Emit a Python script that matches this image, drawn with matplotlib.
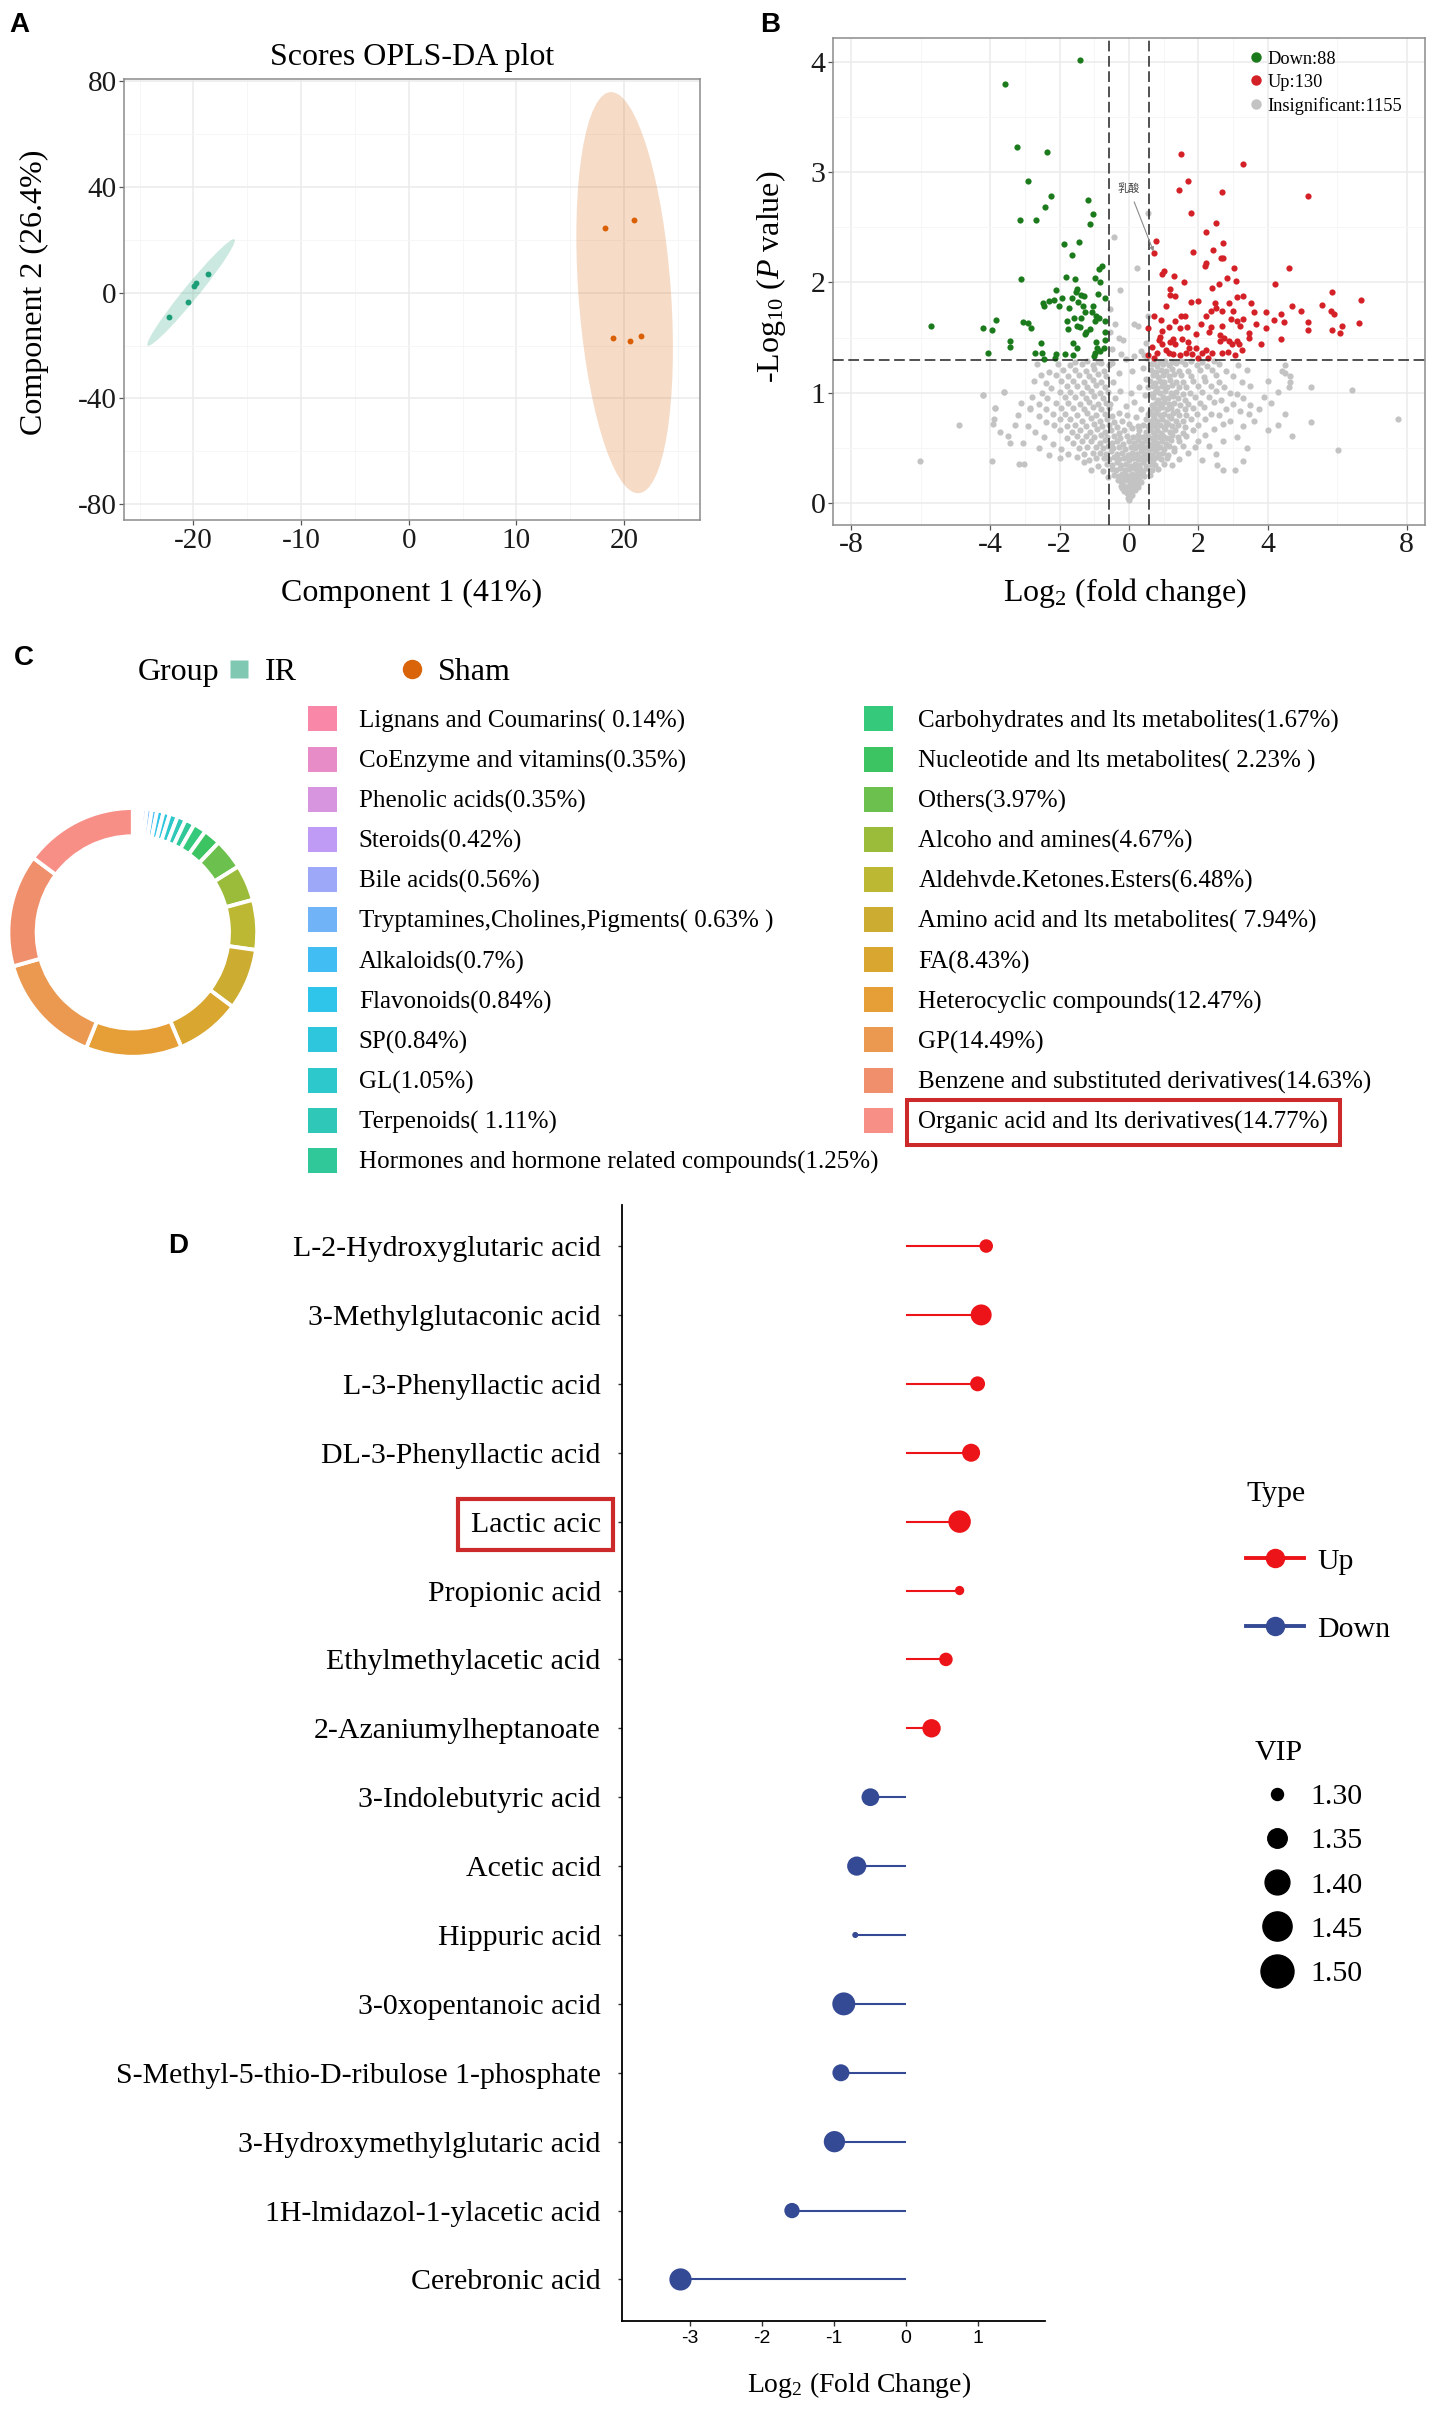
import numpy as np
import matplotlib
matplotlib.use("Agg")
import matplotlib.pyplot as plt
from matplotlib.patches import Ellipse, Patch
from matplotlib.lines import Line2D

# ======================= DATA =======================
# Panel A : OPLS-DA scores
ir_x = [-22.22, -20.50, -19.97, -19.75, -18.63]
ir_y = [-9.4, -3.5, 2.4, 3.5, 7.1]
sham_x = [18.2, 20.9, 19.0, 20.5, 21.6]
sham_y = [24.3, 27.4, -17.3, -18.3, -16.3]
a_xticks = [-20, -10, 0, 10, 20]
a_yticks = [-80, -40, 0, 40, 80]
a_xminor = [-25, -15, -5, 5, 15, 25]
a_yminor = [-60, -20, 20, 60]

# Panel B : volcano
n_down, n_up, n_ns = 88, 130, 1155
fc_cut = 0.585
p_cut = 1.301
b_xticks = [-8, -4, -2, 0, 2, 4, 8]
b_yticks = [0, 1, 2, 3, 4]
b_xminor = [-6, -3, -1, 1, 3, 6]
b_yminor = [0.5, 1.5, 2.5, 3.5]
lactic_xy = (0.72, 2.27)

down_pts = [
    (-1.42, 4.01), (-3.58, 3.80), (-3.22, 3.23), (-2.35, 3.18), (-2.90, 2.92), (-2.25, 2.78),
    (-1.18, 2.75), (-2.42, 2.68), (-1.03, 2.62), (-3.14, 2.57), (-2.67, 2.57), (-1.13, 2.53),
    (-1.43, 2.37), (-1.87, 2.35), (-1.65, 2.25), (-0.78, 2.15), (-0.86, 2.12), (-1.82, 2.05),
    (-0.99, 2.04), (-1.57, 2.03), (-3.11, 2.03), (-0.83, 2.00), (-1.49, 1.94), (-2.10, 1.93),
    (-1.53, 1.91), (-1.37, 1.89), (-1.29, 1.88), (-0.90, 1.90), (-1.64, 1.86), (-2.48, 1.81),
    (-2.32, 1.83), (-2.16, 1.84), (-0.70, 1.86), (-2.45, 1.79), (-2.01, 1.79), (-1.34, 1.79),
    (-1.03, 1.79), (-1.06, 1.73), (-0.94, 1.70), (-1.58, 1.68), (-1.39, 1.68), (-1.78, 1.65),
    (-0.98, 1.65), (-0.87, 1.68), (-0.70, 1.65), (-1.50, 1.61), (-1.42, 1.60), (-1.76, 1.58),
    (-1.26, 1.53), (-3.06, 1.64), (-2.90, 1.63), (-2.83, 1.59), (-3.82, 1.66), (-4.21, 1.59),
    (-3.95, 1.57), (-5.71, 1.61), (-3.42, 1.47), (-3.43, 1.42), (-2.55, 1.45), (-4.05, 1.36),
    (-2.70, 1.36), (-2.51, 1.36), (-2.10, 1.35), (-2.45, 1.31), (-2.14, 1.32), (-1.62, 1.34),
    (-1.49, 1.41), (-1.62, 1.45), (-0.95, 1.46), (-0.91, 1.41), (-0.73, 1.41), (-0.69, 1.48),
    (-0.99, 1.36), (-0.83, 1.38), (-1.02, 1.33), (-1.85, 1.35), (-0.70, 1.55), (-1.13, 1.58),
    (-1.26, 1.73), (-1.23, 1.55), (-1.46, 1.82), (-1.73, 1.77), (-1.93, 1.86),
]

up_pts = [
    (1.50, 3.16), (3.29, 3.07), (1.69, 2.92), (1.43, 2.84), (2.67, 2.82), (5.17, 2.78),
    (1.79, 2.63), (2.50, 2.54), (2.23, 2.46), (0.77, 2.38), (2.70, 2.36), (0.73, 2.27),
    (1.85, 2.28), (2.41, 2.29), (2.22, 2.18), (2.19, 2.15), (2.66, 2.22), (2.71, 2.22),
    (4.62, 2.13), (3.03, 2.13), (1.01, 2.10), (0.94, 2.08), (1.30, 2.06), (2.82, 2.04),
    (1.58, 2.00), (3.07, 2.01), (4.21, 1.99), (2.59, 1.99), (5.85, 1.91), (1.19, 1.94),
    (2.39, 1.95), (1.18, 1.89), (1.34, 1.88), (3.11, 1.87), (3.29, 1.88), (1.98, 1.83),
    (1.78, 1.82), (3.51, 1.81), (6.70, 1.84), (2.89, 1.81), (2.49, 1.81), (1.08, 1.79),
    (5.55, 1.80), (4.71, 1.79), (2.50, 1.77), (4.96, 1.74), (2.37, 1.74), (2.69, 1.74),
    (2.99, 1.74), (3.94, 1.73), (4.39, 1.71), (5.83, 1.74), (5.91, 1.71), (0.73, 1.70),
    (1.50, 1.70), (1.62, 1.70), (2.23, 1.70), (3.30, 1.67), (2.94, 1.67), (0.93, 1.66),
    (1.34, 1.65), (3.10, 1.65), (4.17, 1.66), (4.47, 1.64), (5.17, 1.64), (6.63, 1.63),
    (6.15, 1.61), (2.69, 1.61), (2.35, 1.60), (0.54, 1.59), (1.14, 1.60), (1.67, 1.60),
    (3.19, 1.61), (3.94, 1.59), (5.17, 1.57), (5.85, 1.57), (6.09, 1.54), (0.95, 1.56),
    (2.31, 1.55), (2.61, 1.52), (3.45, 1.54), (3.47, 1.50), (0.88, 1.51), (1.26, 1.49),
    (1.52, 1.49), (2.73, 1.50), (2.89, 1.47), (4.37, 1.49), (0.87, 1.48), (1.19, 1.46),
    (1.69, 1.46), (3.10, 1.47), (2.96, 1.44), (3.16, 1.44), (0.65, 1.42), (0.94, 1.44),
    (1.34, 1.44), (2.61, 1.47), (1.08, 1.39), (1.74, 1.41), (3.26, 1.39), (2.22, 1.39),
    (0.80, 1.36), (1.15, 1.36), (1.65, 1.36), (2.11, 1.36), (2.39, 1.36), (2.67, 1.36),
    (0.56, 1.34), (1.27, 1.35), (1.83, 1.35), (3.05, 1.34), (2.27, 1.32), (0.73, 1.32),
    (2.00, 1.32), (1.47, 1.34), (2.85, 1.37), (3.67, 1.62), (2.07, 1.62), (1.47, 1.59),
    (1.94, 1.53), (3.61, 1.73), (3.81, 1.44), (1.94, 1.41),
]

ns_pts = [
    (0.00, 0.03), (0.04, 0.06), (-0.04, 0.05), (0.09, 0.08), (-0.07, 0.09),
    (-0.14, 0.11), (-0.06, 0.12), (0.03, 0.10), (0.11, 0.13), (0.17, 0.12), (-0.20, 0.14),
    (-0.24, 0.16), (-0.16, 0.17), (-0.09, 0.15), (0.00, 0.16), (0.07, 0.18), (0.14, 0.16), (0.22, 0.17), (0.27, 0.15),
    (-0.32, 0.21), (-0.22, 0.20), (-0.13, 0.22), (-0.05, 0.21), (0.05, 0.23), (0.13, 0.20), (0.21, 0.22), (0.30, 0.21), (0.36, 0.19),
    (-0.42, 0.26), (-0.30, 0.25), (-0.19, 0.27), (-0.08, 0.26), (0.02, 0.25), (0.10, 0.27), (0.19, 0.26), (0.27, 0.24),
    (0.35, 0.27), (0.44, 0.25), (-0.60, 0.24), (0.60, 0.26),
    (-0.50, 0.31), (-0.38, 0.30), (-0.26, 0.32), (-0.12, 0.30), (0.00, 0.31), (0.13, 0.32), (0.24, 0.30), (0.33, 0.31),
    (0.41, 0.29), (0.52, 0.32), (0.66, 0.30), (-0.75, 0.29), (0.85, 0.31), (-1.10, 0.30),
    (-0.62, 0.36), (-0.48, 0.35), (-0.35, 0.37), (-0.22, 0.35), (-0.08, 0.36), (0.06, 0.34), (0.17, 0.36), (0.29, 0.35),
    (0.40, 0.37), (0.50, 0.34), (0.62, 0.36), (0.74, 0.35), (-0.90, 0.34), (1.00, 0.36), (-1.30, 0.37), (1.25, 0.35),
    (-0.72, 0.41), (-0.58, 0.40), (-0.42, 0.42), (-0.30, 0.40), (-0.15, 0.41), (0.00, 0.39), (0.12, 0.41), (0.25, 0.40),
    (0.37, 0.42), (0.48, 0.40), (0.58, 0.41), (0.69, 0.39), (0.80, 0.42), (0.93, 0.40), (-0.95, 0.41), (-1.15, 0.39),
    (1.10, 0.41), (-1.50, 0.42), (1.45, 0.40), (-2.00, 0.41), (2.10, 0.39),
    (-0.85, 0.46), (-0.66, 0.45), (-0.52, 0.47), (-0.36, 0.45), (-0.20, 0.46), (-0.04, 0.44), (0.10, 0.46), (0.22, 0.45),
    (0.34, 0.47), (0.45, 0.45), (0.55, 0.46), (0.65, 0.44), (0.75, 0.47), (0.86, 0.45), (0.98, 0.46), (1.12, 0.44),
    (-1.05, 0.46), (-1.30, 0.45), (1.30, 0.47), (-1.75, 0.45), (1.70, 0.46), (-2.30, 0.44), (2.50, 0.45),
    (-0.95, 0.51), (-0.75, 0.50), (-0.60, 0.52), (-0.45, 0.50), (-0.28, 0.51), (-0.12, 0.49), (0.05, 0.51), (0.18, 0.50),
    (0.30, 0.52), (0.42, 0.50), (0.52, 0.51), (0.60, 0.49), (0.70, 0.52), (0.80, 0.50), (0.90, 0.51), (1.00, 0.49),
    (1.15, 0.52), (1.30, 0.50), (-1.20, 0.51), (-1.45, 0.50), (1.55, 0.52), (-1.95, 0.49), (1.90, 0.51), (-2.60, 0.50),
    (2.30, 0.52), (3.40, 0.50),
    (-1.10, 0.56), (-0.85, 0.55), (-0.68, 0.57), (-0.50, 0.55), (-0.35, 0.56), (-0.18, 0.54), (0.00, 0.56), (0.15, 0.55),
    (0.27, 0.57), (0.38, 0.55), (0.50, 0.56), (0.62, 0.54), (0.72, 0.57), (0.82, 0.55), (0.95, 0.56), (1.08, 0.54),
    (1.20, 0.57), (-1.35, 0.56), (-1.60, 0.55), (1.45, 0.56), (-2.20, 0.54), (2.00, 0.56), (-3.05, 0.55), (2.70, 0.56),
    (-1.25, 0.61), (-1.00, 0.60), (-0.80, 0.62), (-0.62, 0.60), (-0.44, 0.61), (-0.25, 0.59), (-0.05, 0.61), (0.12, 0.60),
    (0.25, 0.62), (0.40, 0.60), (0.55, 0.61), (0.66, 0.59), (0.76, 0.62), (0.86, 0.60), (0.98, 0.61), (1.10, 0.59),
    (1.25, 0.62), (1.40, 0.60), (-1.50, 0.61), (-1.80, 0.59), (1.65, 0.61), (-2.45, 0.60), (2.20, 0.62), (3.10, 0.60),
    (-3.50, 0.61),
    (-1.40, 0.66), (-1.12, 0.65), (-0.92, 0.67), (-0.70, 0.65), (-0.52, 0.66), (-0.30, 0.64), (0.30, 0.66), (0.48, 0.65),
    (0.60, 0.67), (0.70, 0.65), (0.80, 0.66), (0.92, 0.64), (1.05, 0.67), (1.18, 0.65), (1.32, 0.66), (-1.65, 0.65),
    (-2.00, 0.66), (1.55, 0.64), (1.85, 0.66), (-2.70, 0.65), (2.45, 0.67), (4.00, 0.66),
    (-1.55, 0.71), (-1.25, 0.70), (-1.00, 0.72), (-0.78, 0.70), (-0.58, 0.71), (-0.36, 0.69), (0.40, 0.71), (0.56, 0.70),
    (0.66, 0.72), (0.76, 0.70), (0.88, 0.71), (1.00, 0.69), (1.12, 0.72), (1.25, 0.70), (1.40, 0.71), (-1.80, 0.70),
    (-2.15, 0.71), (1.60, 0.69), (2.00, 0.71), (-2.90, 0.70), (2.70, 0.72), (-3.30, 0.71), (3.30, 0.70), (4.30, 0.71),
    (-1.70, 0.76), (-1.35, 0.75), (-1.10, 0.77), (-0.85, 0.75), (-0.62, 0.76), (-0.42, 0.74), (0.50, 0.76), (0.62, 0.75),
    (0.72, 0.77), (0.82, 0.75), (0.94, 0.76), (1.06, 0.74), (1.20, 0.77), (1.35, 0.75), (-2.00, 0.76), (1.55, 0.75),
    (1.80, 0.76), (-2.40, 0.74), (2.20, 0.76), (2.90, 0.75), (-3.90, 0.76), (3.60, 0.75),
    (-1.85, 0.81), (-1.50, 0.80), (-1.20, 0.82), (-0.95, 0.80), (-0.70, 0.81), (-0.48, 0.79), (0.55, 0.81), (0.68, 0.80),
    (0.78, 0.82), (0.90, 0.80), (1.02, 0.81), (1.15, 0.79), (1.28, 0.82), (1.45, 0.80), (-2.20, 0.81), (1.65, 0.80),
    (1.95, 0.81), (-2.60, 0.79), (2.35, 0.81), (2.60, 0.80), (3.45, 0.81), (-3.20, 0.80), (4.50, 0.81),
    (-1.60, 0.86), (-1.30, 0.85), (-1.05, 0.87), (-0.80, 0.85), (-0.58, 0.86), (0.60, 0.84), (0.72, 0.86), (0.84, 0.85),
    (0.96, 0.87), (1.10, 0.85), (1.22, 0.86), (1.38, 0.84), (-1.95, 0.86), (1.60, 0.85), (1.85, 0.86), (-2.40, 0.85),
    (2.15, 0.87), (2.80, 0.85), (-2.85, 0.86), (3.20, 0.84), (-3.85, 0.86), (3.75, 0.85),
    (-1.75, 0.91), (-1.40, 0.90), (-1.15, 0.92), (-0.90, 0.90), (-0.65, 0.91), (0.65, 0.89), (0.78, 0.91), (0.90, 0.90),
    (1.02, 0.92), (1.15, 0.90), (1.30, 0.91), (1.48, 0.89), (-2.10, 0.91), (1.70, 0.90), (2.05, 0.91), (-2.60, 0.90),
    (2.45, 0.92), (3.00, 0.90), (-3.10, 0.91), (3.50, 0.89), (4.10, 0.91),
    (-1.55, 0.96), (-1.25, 0.95), (-1.00, 0.97), (-0.75, 0.95), (0.70, 0.96), (0.85, 0.94), (0.98, 0.96), (1.12, 0.95),
    (1.26, 0.97), (1.42, 0.95), (-1.85, 0.96), (1.60, 0.94), (1.90, 0.96), (-2.35, 0.95), (2.30, 0.96), (2.65, 0.94),
    (-2.80, 0.96), (3.30, 0.95), (3.90, 0.96),
    (-1.70, 1.01), (-1.35, 1.00), (-1.10, 1.02), (-0.85, 1.00), (-0.60, 1.01), (0.62, 0.99), (0.75, 1.01), (0.90, 1.00),
    (1.05, 1.02), (1.20, 1.00), (1.36, 1.01), (1.55, 0.99), (-2.00, 1.01), (1.75, 1.00), (2.10, 1.01), (-2.50, 1.00),
    (2.50, 1.02), (2.90, 1.00), (-3.60, 1.01), (3.10, 0.99), (4.30, 1.01), (-4.20, 0.98),
    (-1.50, 1.06), (-1.20, 1.05), (-0.95, 1.07), (-0.70, 1.05), (0.68, 1.06), (0.82, 1.04), (0.96, 1.06), (1.10, 1.05),
    (1.25, 1.07), (1.45, 1.05), (-1.80, 1.06), (1.65, 1.05), (2.00, 1.06), (-2.25, 1.04), (2.35, 1.06), (2.75, 1.05),
    (3.50, 1.06), (4.60, 1.05),
    (-1.60, 1.11), (-1.30, 1.10), (-1.05, 1.12), (-0.80, 1.10), (0.60, 1.11), (0.75, 1.09), (0.88, 1.11), (1.02, 1.10),
    (1.18, 1.12), (1.35, 1.10), (-1.95, 1.11), (1.55, 1.10), (1.85, 1.11), (-2.40, 1.09), (2.20, 1.11), (2.60, 1.10),
    (-2.75, 1.11), (3.25, 1.10), (4.00, 1.11),
    (-1.45, 1.16), (-1.15, 1.15), (-0.90, 1.17), (-0.65, 1.15), (0.70, 1.16), (0.84, 1.14), (0.98, 1.16), (1.14, 1.15),
    (1.30, 1.17), (-1.75, 1.15), (1.50, 1.16), (1.80, 1.15), (-2.10, 1.16), (2.15, 1.14), (2.50, 1.16), (3.00, 1.15),
    (-2.55, 1.16), (4.65, 1.15),
    (-1.55, 1.21), (-1.25, 1.20), (-1.00, 1.22), (-0.72, 1.20), (0.62, 1.21), (0.78, 1.19), (0.92, 1.21), (1.08, 1.20),
    (1.25, 1.22), (1.45, 1.20), (-1.90, 1.21), (1.70, 1.20), (2.05, 1.21), (-2.30, 1.19), (2.40, 1.21), (2.80, 1.20),
    (3.40, 1.21), (4.40, 1.20),
    (-1.35, 1.26), (-1.05, 1.25), (-0.80, 1.27), (-0.58, 1.25), (0.66, 1.26), (0.82, 1.24), (0.98, 1.26), (1.15, 1.25),
    (1.35, 1.27), (-1.70, 1.25), (1.60, 1.26), (1.95, 1.25), (-2.05, 1.26), (2.25, 1.24), (2.60, 1.26), (3.15, 1.25),
    (-2.65, 1.26), (4.50, 1.25),
    (-1.20, 1.29), (-0.90, 1.28), (0.72, 1.29), (0.90, 1.28), (1.05, 1.29), (1.25, 1.28), (1.50, 1.29), (-1.55, 1.28),
    (1.80, 1.29), (2.10, 1.28), (2.45, 1.29),
    (-0.15, 0.66), (0.10, 0.68), (0.00, 0.72), (-0.20, 0.75), (0.20, 0.78), (-0.30, 0.82), (0.35, 0.85), (-0.10, 0.88),
    (0.15, 0.92), (-0.40, 0.95), (0.45, 0.98), (-0.25, 1.02), (0.30, 1.05), (-0.45, 1.10), (0.48, 1.13), (-0.30, 1.18),
    (0.10, 1.20), (0.40, 1.23), (-0.50, 1.27), (0.05, 1.00), (-0.05, 0.80), (0.25, 0.70), (0.55, 1.05), (-0.55, 0.90),
    (-6.02, 0.38), (-4.89, 0.71), (-4.21, 0.98), (-3.61, 1.01), (-3.93, 0.72), (-3.95, 0.38), (-3.71, 0.65), (-3.43, 0.55),
    (-3.18, 0.36), (-3.02, 0.36), (-3.87, 0.86), (-2.85, 0.85), (7.74, 0.76), (6.43, 1.03), (6.01, 0.48), (5.25, 1.05),
    (5.25, 0.74), (4.70, 0.61), (4.50, 1.18), (4.65, 1.10), (3.30, 0.38), (3.05, 0.30), (2.55, 0.35), (2.70, 0.30),
    (0.55, 2.63), (-0.42, 2.41), (0.22, 2.13), (-0.27, 1.93), (-0.55, 1.76), (0.14, 1.62), (0.25, 1.61), (-0.40, 1.62),
    (-0.30, 1.50), (-0.18, 1.48), (0.50, 1.45), (0.35, 1.38), (-0.50, 1.40), (-0.22, 1.35), (0.55, 1.70), (-0.55, 1.55),
    (0.52, 1.32), (0.42, 1.34), (-0.10, 1.31), (0.15, 1.33),
]

# Panel C : class composition
class_labels = [
    "Lignans and Coumarins( 0.14%)", "CoEnzyme and vitamins(0.35%)", "Phenolic acids(0.35%)",
    "Steroids(0.42%)", "Bile acids(0.56%)", "Tryptamines,Cholines,Pigments( 0.63% )",
    "Alkaloids(0.7%)", "Flavonoids(0.84%)", "SP(0.84%)", "GL(1.05%)", "Terpenoids( 1.11%)",
    "Hormones and hormone related compounds(1.25%)",
    "Carbohydrates and lts metabolites(1.67%)", "Nucleotide and lts metabolites( 2.23% )",
    "Others(3.97%)", "Alcoho and amines(4.67%)", "Aldehvde.Ketones.Esters(6.48%)",
    "Amino acid and lts metabolites( 7.94%)", "FA(8.43%)", "Heterocyclic compounds(12.47%)",
    "GP(14.49%)", "Benzene and substituted derivatives(14.63%)", "Organic acid and lts derivatives(14.77%)",
]
class_pct = [0.14, 0.35, 0.35, 0.42, 0.56, 0.63, 0.70, 0.84, 0.84, 1.05, 1.11, 1.25,
             1.67, 2.23, 3.97, 4.67, 6.48, 7.94, 8.43, 12.47, 14.49, 14.63, 14.77]
class_colors = ["#f887a8", "#e88cc8", "#d795e0", "#c09bf5", "#9ea8f8", "#70b3f7",
                "#42bdf3", "#2fc4ea", "#2dc6dc", "#2dc8cc", "#2fc8b8", "#31c899",
                "#35c97c", "#3dc462", "#6cc04e", "#9bbb3b", "#bcb834", "#ccad31",
                "#d9a630", "#e59f36", "#eb9851", "#f08f6c", "#f88f87"]
highlight_class = "Organic acid and lts derivatives(14.77%)"

# Panel D : lollipop
metabolites = ["L-2-Hydroxyglutaric acid", "3-Methylglutaconic acid", "L-3-Phenyllactic acid",
               "DL-3-Phenyllactic acid", "Lactic acic", "Propionic acid", "Ethylmethylacetic acid",
               "2-Azaniumylheptanoate", "3-Indolebutyric acid", "Acetic acid", "Hippuric acid",
               "3-0xopentanoic acid", "S-Methyl-5-thio-D-ribulose 1-phosphate",
               "3-Hydroxymethylglutaric acid", "1H-lmidazol-1-ylacetic acid", "Cerebronic acid"]
log2fc = [1.12, 1.05, 1.00, 0.91, 0.75, 0.75, 0.56, 0.36,
          -0.49, -0.68, -0.70, -0.86, -0.90, -0.99, -1.58, -3.13]
vip = [1.351, 1.465, 1.369, 1.414, 1.494, 1.308, 1.351, 1.420,
       1.410, 1.433, 1.286, 1.504, 1.398, 1.471, 1.374, 1.489]
vip_breaks = [1.30, 1.35, 1.40, 1.45, 1.50]
d_xticks = [-3, -2, -1, 0, 1]
highlight_metab = "Lactic acic"

# ======================= STYLE =======================
plt.rcParams.update({
    "font.family": ["Liberation Serif", "DejaVu Serif"],
    "mathtext.fontset": "custom",
    "mathtext.rm": "Liberation Serif",
    "mathtext.it": "Liberation Serif:italic",
    "mathtext.bf": "Liberation Serif:bold",
    "axes.unicode_minus": False,
})
SANS = ["Liberation Sans", "DejaVu Sans"]
NARROW = ["Liberation Sans Narrow", "Liberation Sans", "DejaVu Sans"]

ir_color, sham_color = "#1b9e77", "#d95f02"
down_color, up_color, ns_color = "#1b7a1b", "#d42027", "#c3c3c3"
d_up, d_down = "#ec1418", "#344a94"
box_red = "#cc2a2a"

W, H, DPI = 1450, 2427, 100
fig = plt.figure(figsize=(W / DPI, H / DPI), dpi=DPI)


def fx(x):
    return x / W


def fy(y):
    return 1 - y / H


def add_ax(l, t, r, b):
    return fig.add_axes([l / W, 1 - b / H, (r - l) / W, (b - t) / H])


def style_bw(ax, labelsize):
    ax.set_axisbelow(True)
    ax.grid(True, which="major", color="#ebebeb", lw=1.1)
    ax.grid(True, which="minor", color="#f5f5f5", lw=0.6)
    for s in ax.spines.values():
        s.set_color("#8c8c8c")
        s.set_linewidth(1.1)
    ax.tick_params(which="major", length=3.3, width=0.9, color="#555555",
                   labelsize=labelsize, pad=2, labelcolor="#1a1a1a")
    ax.tick_params(which="minor", length=0)


def conf_ellipse(x, y, k, **kw):
    x = np.asarray(x, float)
    y = np.asarray(y, float)
    vals, vecs = np.linalg.eigh(np.cov(x, y))
    order = vals.argsort()[::-1]
    vals, vecs = vals[order], vecs[:, order]
    angle = np.degrees(np.arctan2(vecs[1, 0], vecs[0, 0]))
    w, h = 2 * k * np.sqrt(vals)
    return Ellipse((x.mean(), y.mean()), w, h, angle=angle, **kw)


def vip_diam_px(v):
    return np.sqrt(144 + (np.asarray(v) - 1.30) * 4725)


def panel_letter(x, y_base, s):
    fig.text(fx(x), fy(y_base), s, fontsize=20, fontweight="bold", family=SANS, va="baseline")


# ======================= PANEL A =======================
ax_a = add_ax(123.9, 79.1, 699.6, 520.3)
ax_a.add_patch(conf_ellipse(ir_x, ir_y, 3.1, facecolor=ir_color, alpha=0.22, edgecolor="none", zorder=1))
ax_a.add_patch(conf_ellipse(sham_x, sham_y, 3.2, facecolor=sham_color, alpha=0.22, edgecolor="none", zorder=1))
ax_a.scatter(ir_x, ir_y, s=18, color=ir_color, linewidths=0, zorder=3)
ax_a.scatter(sham_x, sham_y, s=18, color=sham_color, linewidths=0, zorder=3)
ax_a.set_xlim(-26.45, 27.0)
ax_a.set_ylim(-86.0, 80.6)
ax_a.set_xticks(a_xticks)
ax_a.set_yticks(a_yticks)
ax_a.set_xticks(a_xminor, minor=True)
ax_a.set_yticks(a_yminor, minor=True)
style_bw(ax_a, 21)
ax_a.set_title("Scores OPLS-DA plot", fontsize=23, pad=10)
ax_a.set_xlabel("Component 1 (41%)", fontsize=23, va="center")
ax_a.xaxis.set_label_coords(0.5, -0.166)
ax_a.set_ylabel("Component 2 (26.4%)", fontsize=23, va="center")
ax_a.yaxis.set_label_coords(-0.155, 0.516)
panel_letter(9, 32, "A")

# ======================= PANEL B =======================
ax_b = add_ax(832.7, 38.4, 1424.6, 525.1)
ns = np.array(ns_pts)
dn = np.array(down_pts)
upp = np.array(up_pts)
ax_b.scatter(ns[:, 0], ns[:, 1], s=20, color=ns_color, linewidths=0, zorder=2)
ax_b.scatter(dn[:, 0], dn[:, 1], s=20, color=down_color, linewidths=0, zorder=3)
ax_b.scatter(upp[:, 0], upp[:, 1], s=20, color=up_color, linewidths=0, zorder=3)
for xv in (-fc_cut, fc_cut):
    ax_b.axvline(xv, color="#222222", lw=1.1, ls=(0, (7, 3)), zorder=4)
ax_b.axhline(p_cut, color="#222222", lw=1.1, ls=(0, (7, 3)), zorder=4)
ax_b.annotate("乳酸", xy=lactic_xy, xytext=(0.0, 2.85), ha="center", va="center",
              fontsize=8, color="#444444", family=["Noto Sans CJK SC", "DejaVu Sans"],
              arrowprops=dict(arrowstyle="-|>", color="#8a8a8a", lw=0.8, mutation_scale=6,
                              shrinkA=4, shrinkB=1), zorder=5)
ax_b.set_xlim(-8.54, 8.52)
ax_b.set_ylim(-0.197, 4.21)
ax_b.set_xticks(b_xticks)
ax_b.set_yticks(b_yticks)
ax_b.set_xticks(b_xminor, minor=True)
ax_b.set_yticks(b_yminor, minor=True)
style_bw(ax_b, 21.5)
ax_b.set_xlabel(r"Log$_2$ (fold change)", fontsize=23, va="center")
ax_b.xaxis.set_label_coords(0.494, -0.1405)
ax_b.set_ylabel(r"-Log$_{10}$ ($\it{P}$ value)", fontsize=23, va="center")
ax_b.yaxis.set_label_coords(-0.104, 0.51)
b_handles = [Line2D([], [], ls="none", marker="o", ms=7.5, mfc=c, mec="none")
             for c in (down_color, up_color, ns_color)]
fig.legend(b_handles, [f"Down:{n_down}", f"Up:{n_up}", f"Insignificant:{n_ns}"],
           loc="upper left", bbox_to_anchor=(fx(1248.7), fy(50.5)), frameon=False, fontsize=13.2,
           handlelength=0.8, handletextpad=0.22, labelspacing=0.34, borderpad=0, borderaxespad=0)
panel_letter(760, 32, "B")

# ======================= PANEL C =======================
ax_c = add_ax(8.4, 808.0, 257.2, 1056.8)
ax_c.pie(class_pct, colors=class_colors, startangle=90, counterclock=False, radius=1,
         wedgeprops=dict(width=0.227, edgecolor="white", linewidth=2.8))
ax_c.set_xlim(-1, 1)
ax_c.set_ylim(-1, 1)
ax_c.set_aspect("equal")
ax_c.axis("off")

c_handles = [Patch(facecolor=c, edgecolor="none") for c in class_colors]
leg_c1 = fig.legend(c_handles[:12], class_labels[:12], loc="upper left",
                    bbox_to_anchor=(fx(308), fy(706.5)), frameon=False, fontsize=18,
                    handlelength=1.16, handleheight=1.16, handletextpad=0.87,
                    labelspacing=0.55, borderpad=0, borderaxespad=0)
leg_c2 = fig.legend(c_handles[12:], class_labels[12:], loc="upper left",
                    bbox_to_anchor=(fx(864.5), fy(706.5)), frameon=False, fontsize=18,
                    handlelength=1.16, handleheight=1.16, handletextpad=1.0,
                    labelspacing=0.55, borderpad=0, borderaxespad=0)
for t in leg_c2.get_texts():
    if t.get_text() == highlight_class:
        t.set_bbox(dict(boxstyle="square,pad=0.45", facecolor="none", edgecolor=box_red, linewidth=2.9))

fig.text(fx(138), fy(672.8), "Group", fontsize=23, va="center", ha="left")
g_handles = [Line2D([], [], ls="none", marker="s", ms=13, mfc="#80c8b2", mec="none"),
             Line2D([], [], ls="none", marker="o", ms=14, mfc="#d9640a", mec="none")]
fig.legend(g_handles, ["IR", "Sham"], ncol=2, loc="center left",
           bbox_to_anchor=(fx(226), fy(672.8)), frameon=False, fontsize=23,
           handlelength=0.8, handletextpad=0.42, columnspacing=3.2, borderpad=0, borderaxespad=0)
panel_letter(14, 665, "C")

# ======================= PANEL D =======================
ax_d = add_ax(621.5, 1204.7, 1045.2, 2320.8)
ypos = np.arange(len(metabolites))[::-1] + 1
cols = [d_up if v > 0 else d_down for v in log2fc]
ax_d.hlines(ypos, 0, log2fc, colors=cols, lw=1.5, zorder=2)
sizes = (0.69 * vip_diam_px(vip) * 0.72) ** 2
ax_d.scatter(log2fc, ypos, s=sizes, c=cols, linewidths=0, zorder=3)
ax_d.set_xlim(-3.95, 1.94)
ax_d.set_ylim(0.4, len(metabolites) + 0.6)
ax_d.set_yticks(ypos)
ax_d.set_yticklabels(metabolites)
ax_d.set_xticks(d_xticks)
ax_d.set_xticklabels([str(t) for t in d_xticks], fontfamily=NARROW, fontsize=14)
for s in ("top", "right"):
    ax_d.spines[s].set_visible(False)
for s in ("left", "bottom"):
    ax_d.spines[s].set_color("black")
    ax_d.spines[s].set_linewidth(1.3)
ax_d.tick_params(axis="y", length=3, width=1, pad=12, labelsize=21.5, color="#333333")
ax_d.tick_params(axis="x", length=3.6, width=1, pad=3, color="#333333")
for lab in ax_d.get_yticklabels():
    if lab.get_text() == highlight_metab:
        lab.set_bbox(dict(boxstyle="square,pad=0.42", facecolor="none", edgecolor=box_red, linewidth=3))
ax_d.set_xlabel(r"Log$_2$ (Fold Change)", fontsize=20, va="center")
ax_d.xaxis.set_label_coords(0.561, -0.0573)
panel_letter(168, 1253, "D")

type_handles = [Line2D([], [], color=d_up, lw=2.8, marker="o", ms=13),
                Line2D([], [], color=d_down, lw=2.8, marker="o", ms=13)]
fig.legend(type_handles, ["Up", "Down"], title="Type", loc="upper left",
           bbox_to_anchor=(fx(1246), fy(1480.6)), frameon=False, fontsize=21.5, title_fontsize=21.5,
           handlelength=1.94, handletextpad=0.44, labelspacing=1.38, borderpad=0, borderaxespad=0,
           alignment="left")
vip_handles = [Line2D([], [], ls="none", marker="o", color="black",
                      ms=float(vip_diam_px(v)) * 0.72) for v in vip_breaks]
fig.legend(vip_handles, [f"{v:.2f}" for v in vip_breaks], title="VIP", loc="upper left",
           bbox_to_anchor=(fx(1255), fy(1740)), frameon=False, fontsize=21.5, title_fontsize=21.5,
           handlelength=1.47, handletextpad=0.37, labelspacing=0.58, borderpad=0, borderaxespad=0,
           alignment="left")

fig.savefig("out.png", dpi=DPI, facecolor="white")
